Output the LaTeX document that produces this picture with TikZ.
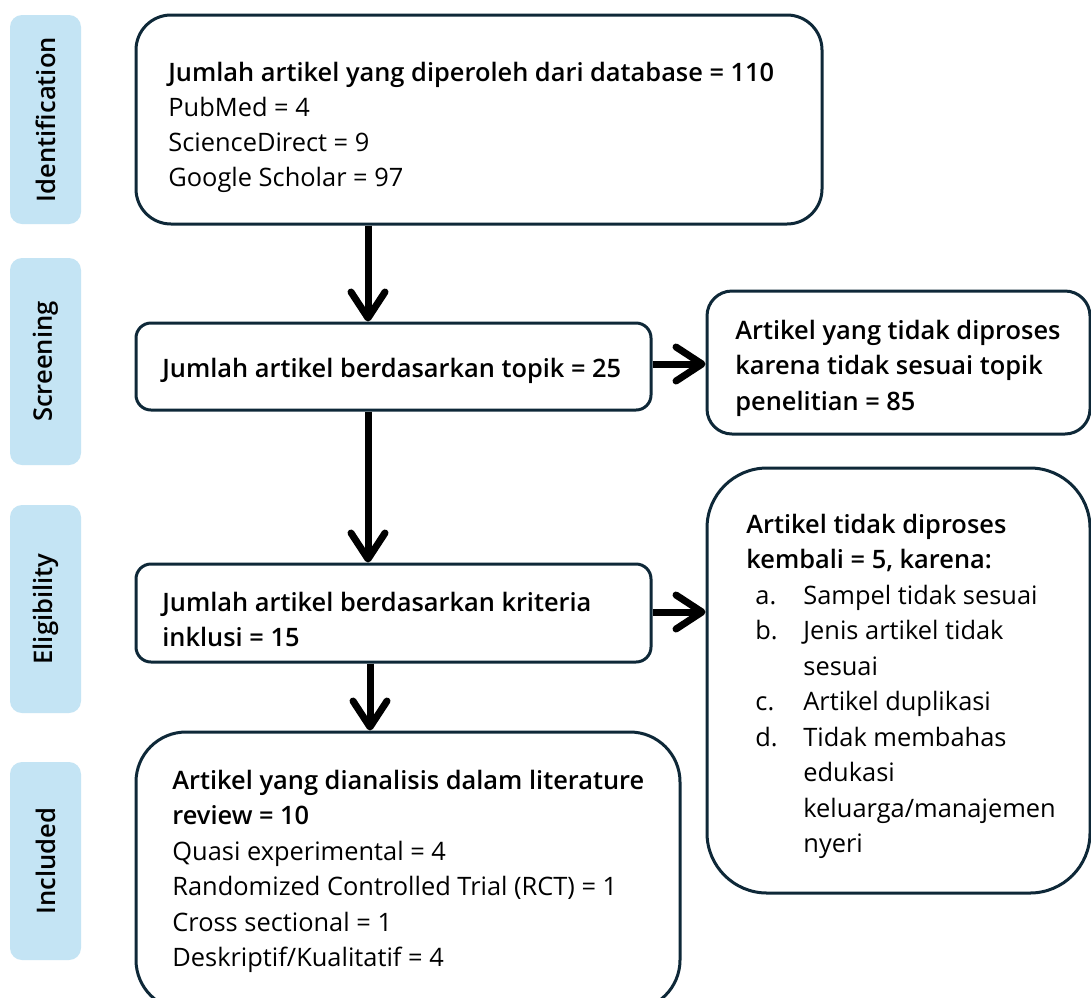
\documentclass[tikz,border=0pt]{standalone}
\usepackage{fontspec}
\IfFontExistsTF{Open Sans SemiBold}{%
  \setmainfont{Open Sans}[BoldFont={Open Sans SemiBold}]}{%
  \IfFontExistsTF{Open Sans Semibold}{%
    \setmainfont{Open Sans}[BoldFont={Open Sans Semibold}]}{%
    \setmainfont{Open Sans}[BoldFeatures={FakeStretch=0.93}]}}
\usetikzlibrary{arrows.meta}
\definecolor{navy}{RGB}{14,40,56}
\definecolor{lblue}{RGB}{196,228,244}
\newcommand{\itm}[2]{\hspace*{4.5pt}\makebox[24pt][l]{#1}#2}
\newcommand{\cnt}[1]{\hspace*{28.5pt}#1}
\begin{document}
\begin{tikzpicture}[x=0.5pt,y=-0.5pt,
  phase/.style={draw=none, fill=lblue, rounded corners=6pt, inner sep=0pt},
  box/.style={draw=navy, line width=1.5pt, fill=white, inner sep=0pt},
  txt/.style={anchor=base west, inner sep=0pt, font=\fontsize{12.7}{17.6}\selectfont},
  txtb/.style={txt, font=\fontsize{12.7}{17.75}\selectfont},
  arr/.style={line width=3.5pt, -{Straight Barb[round,length=13pt,width=17pt]}},
  plab/.style={rotate=90, inner sep=0pt, font=\fontsize{12.8}{15}\selectfont\bfseries}
]
\clip (0,0) rectangle (1091,997);
\fill[white] (0,0) rectangle (1091,997);

% phase labels
\node[phase, minimum width=35.5pt, minimum height=104.5pt] (l1) at (45.5,119.5) {};
\node[plab] (l1t) at (l1) {Identification};
\node[phase, minimum width=35.5pt, minimum height=103.5pt] (l2) at (45.5,361.5) {};
\node[plab] (l2t) at (l2) {Screening};
\node[phase, minimum width=35.5pt, minimum height=104pt] (l3) at (45.5,609) {};
\node[plab] (l3t) at (l3) {Eligibility};
\node[phase, minimum width=35.5pt, minimum height=99pt] (l4) at (45.5,861) {};
\node[plab] (l4t) at (l4) {Included};

% boxes
\node[box, rounded corners=17.5pt, minimum width=343pt, minimum height=104.5pt] (b1) at (479,119.5) {};
\node[box, rounded corners=7.5pt, minimum width=257.5pt, minimum height=43.5pt] (b2) at (393.5,366.5) {};
\node[box, rounded corners=12.5pt, minimum width=191.5pt, minimum height=71.5pt] (b3) at (898.5,362.5) {};
\node[box, rounded corners=7.5pt, minimum width=257.5pt, minimum height=49pt] (b4) at (393.5,613) {};
\node[box, rounded corners=30pt, minimum width=191.5pt, minimum height=212.5pt] (b5) at (898.5,680.5) {};
\node[box, rounded corners=25pt, minimum width=272pt, minimum height=139pt] (b6) at (408,871) {};

% texts
\node[txt] (t1) at (168,81) {\begin{tabular}[t]{@{}l@{}}
\textbf{Jumlah artikel yang diperoleh dari database = 110}\\
PubMed = 4\\
ScienceDirect = 9\\
Google Scholar = 97
\end{tabular}};
\node[txt] (t2) at (162,377) {\textbf{Jumlah artikel berdasarkan topik = 25}};
\node[txtb] (t3) at (735,339) {\begin{tabular}[t]{@{}l@{}}
\textbf{Artikel yang tidak diproses}\\
\textbf{karena tidak sesuai topik}\\
\textbf{penelitian = 85}
\end{tabular}};
\node[txt] (t4) at (162,611) {\begin{tabular}[t]{@{}l@{}}
\textbf{Jumlah artikel berdasarkan kriteria}\\
\textbf{inklusi = 15}
\end{tabular}};
\node[txtb] (t5) at (746,533) {\begin{tabular}[t]{@{}l@{}}
\textbf{Artikel tidak diproses}\\
\textbf{kembali = 5, karena:}\\
\itm{a.}{Sampel tidak sesuai}\\
\itm{b.}{Jenis artikel tidak}\\
\cnt{sesuai}\\
\itm{c.}{Artikel duplikasi}\\
\itm{d.}{Tidak membahas}\\
\cnt{edukasi}\\
\cnt{keluarga/manajemen}\\
\cnt{nyeri}
\end{tabular}};
\node[txtb] (t6) at (172,789) {\begin{tabular}[t]{@{}l@{}}
\textbf{Artikel yang dianalisis dalam literature}\\
\textbf{review = 10}\\
Quasi experimental = 4\\
Randomized Controlled Trial (RCT) = 1\\
Cross sectional = 1\\
Deskriptif/Kualitatif = 4
\end{tabular}};

% connectors
\coordinate (c1) at (368,0);
\coordinate (c2) at (0,364);
\coordinate (c4) at (0,612);
\coordinate (c5) at (370,0);
\draw[arr] (b1.south -| c1) -- (b2.north -| c1);
\draw[arr] (b2.east |- c2) -- (b3.west |- c2);
\draw[arr] (b2.south -| c1) -- (b4.north -| c1);
\draw[arr] (b4.east |- c4) -- (b5.west |- c4);
\draw[arr] (b4.south -| c5) -- (b6.north -| c5);
\end{tikzpicture}
\end{document}
